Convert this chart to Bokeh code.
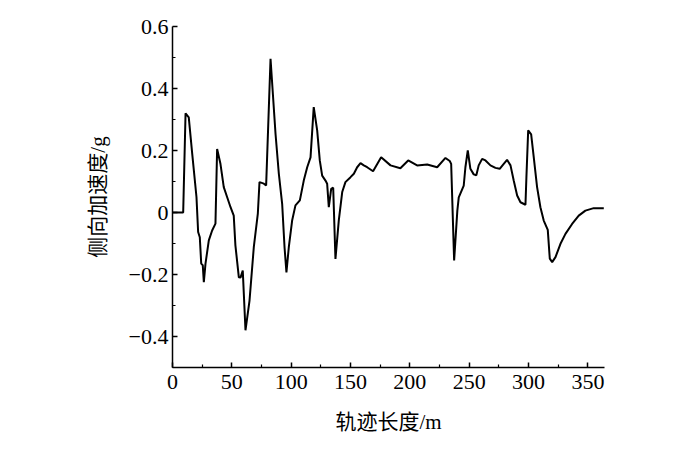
from bokeh.plotting import figure
from bokeh.models import Range1d, FixedTicker, CustomJSTickFormatter
from bokeh.embed import file_html
from bokeh.resources import INLINE

# Track length (m) and lateral acceleration (g)
distance = [0, 9, 11, 13.7, 16.6, 20.2, 21.6, 23, 24.2, 25.5, 26.4, 27.8, 30.6, 33.4, 36.2,
            37.6, 40.4, 43.2, 46, 48.9, 51.6, 53, 55.9, 57.3, 59.2, 61.5, 64.9, 68.5, 71.9,
            73.3, 77, 78.9, 82.6, 86.8, 89.6, 92.4, 94.4, 96, 98, 100.8, 103.6, 107.3, 110.6,
            113.5, 116.3, 119, 121.9, 124.1, 126.1, 128.9, 130.3, 131.7, 133.7, 135.4, 137.3,
            140.1, 143, 145.7, 150, 152.8, 155.6, 158.4, 161.2, 164, 169, 175.8, 183.7, 192,
            198.6, 206.1, 214.6, 223, 230, 233.6, 234.8, 237.3, 240, 241.2, 245.4, 246.8,
            248.8, 251, 253.8, 256, 258, 260.9, 263.7, 267.9, 272.1, 275.7, 279.1, 281.9,
            284.8, 287.5, 290.4, 293.2, 297.4, 298.2, 299.7, 302.2, 304.4, 307.2, 310, 312.8,
            316.2, 317.9, 319.9, 322.7, 326.9, 331.1, 336.7, 342.3, 347.9, 354.9, 363.4]
accel = [0, 0, 0.32, 0.307, 0.19, 0.05, -0.063, -0.08, -0.165, -0.17, -0.225, -0.165, -0.09,
         -0.058, -0.036, 0.205, 0.157, 0.082, 0.05, 0.017, -0.01, -0.106, -0.209, -0.21,
         -0.187, -0.38, -0.284, -0.112, -0.004, 0.098, 0.093, 0.087, 0.496, 0.254, 0.125,
         0.028, -0.112, -0.193, -0.112, -0.026, 0.023, 0.039, 0.103, 0.146, 0.178, 0.34,
         0.265, 0.168, 0.119, 0.103, 0.093, 0.017, 0.076, 0.08, -0.15, -0.026, 0.066, 0.098,
         0.114, 0.125, 0.146, 0.159, 0.152, 0.146, 0.133, 0.178, 0.152, 0.143, 0.168, 0.152,
         0.155, 0.146, 0.176, 0.166, 0.157, -0.155, 0.006, 0.049, 0.087, 0.146, 0.2, 0.141,
         0.123, 0.12, 0.152, 0.173, 0.168, 0.152, 0.144, 0.141, 0.157, 0.17, 0.152, 0.103,
         0.055, 0.033, 0.025, 0.114, 0.265, 0.252, 0.178, 0.082, 0.017, -0.026, -0.056,
         -0.149, -0.16, -0.144, -0.101, -0.069, -0.037, -0.01, 0.006, 0.014, 0.014]

x_ticks = [0, 50, 100, 150, 200, 250, 300, 350]
x_minor = [25, 75, 125, 175, 225, 275, 325]
y_ticks = [-0.4, -0.2, 0, 0.2, 0.4, 0.6]
y_minor = [-0.5, -0.3, -0.1, 0.1, 0.3, 0.5]

x_label = "轨迹长度/m"
y_label = "侧向加速度/g"

p = figure(width=680, height=440, output_backend="svg", toolbar_location=None,
           x_range=Range1d(0, 364), y_range=Range1d(-0.5, 0.6),
           min_border_left=172, min_border_right=76, min_border_top=26, min_border_bottom=73)

p.line(distance, accel, line_color="black", line_width=2)

p.outline_line_color = None
p.xgrid.grid_line_color = None
p.ygrid.grid_line_color = None
p.background_fill_color = "white"

serif = "'Liberation Serif', 'Noto Sans CJK SC'"

p.xaxis.ticker = FixedTicker(ticks=x_ticks, minor_ticks=x_minor)
p.yaxis.ticker = FixedTicker(ticks=y_ticks, minor_ticks=y_minor)
p.yaxis.formatter = CustomJSTickFormatter(code="""
    if (Math.abs(tick) < 1e-9) { return "0"; }
    return tick.toFixed(1).replace("-", "\u2212");
""")

for ax in (p.xaxis[0], p.yaxis[0]):
    ax.axis_line_color = "black"
    ax.axis_line_width = 1.5
    ax.major_tick_line_color = "black"
    ax.minor_tick_line_color = "black"
    ax.major_tick_line_width = 1.5
    ax.minor_tick_line_width = 1.2
    ax.major_tick_in = 5
    ax.major_tick_out = 0
    ax.minor_tick_in = 3
    ax.minor_tick_out = 0
    ax.major_label_text_font = "Liberation Serif"
    ax.major_label_text_font_size = "22px"
    ax.major_label_text_color = "black"
    ax.axis_label_text_font = serif
    ax.axis_label_text_font_size = "21px"
    ax.axis_label_text_font_style = "normal"
    ax.axis_label_text_color = "black"

p.xaxis.axis_label = x_label
p.yaxis.axis_label = y_label
p.xaxis.major_label_standoff = 7
p.yaxis.major_label_standoff = 4
p.xaxis.axis_label_standoff = 18
p.yaxis.axis_label_standoff = 16

open("out.html", "w").write(file_html(p, INLINE))
